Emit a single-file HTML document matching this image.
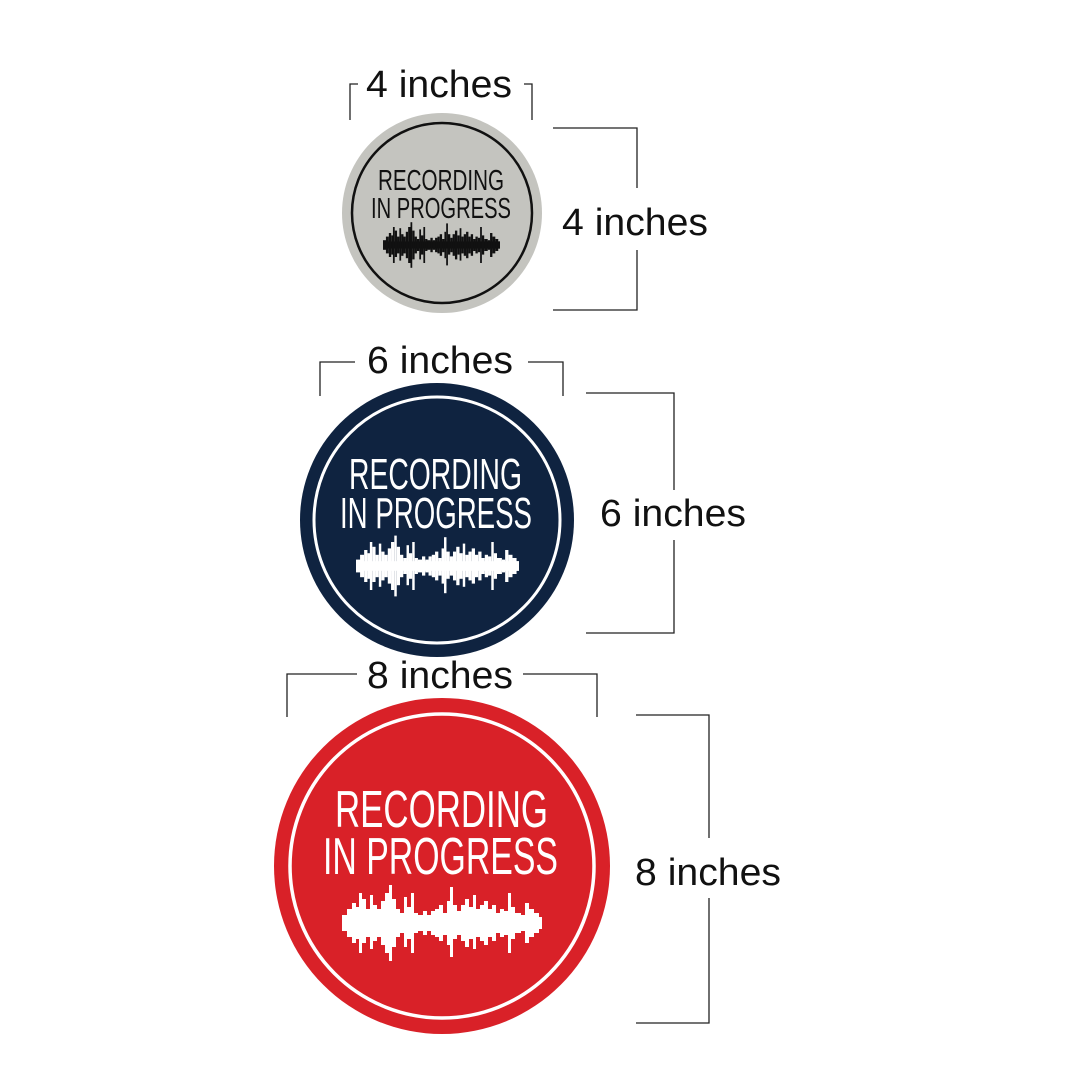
<!DOCTYPE html>
<html><head><meta charset="utf-8"><style>
html,body{margin:0;padding:0;background:#fff;}
svg{display:block;}
</style></head><body>
<svg width="1082" height="1082" viewBox="0 0 1082 1082" xmlns="http://www.w3.org/2000/svg">
<defs>
<g id="wave">
<rect x="0" y="-6" width="200" height="12"/>
<rect x="0" y="-8" width="6" height="16"/>
<rect x="5" y="-14" width="5" height="28"/>
<rect x="10" y="-20" width="4" height="40"/>
<rect x="14" y="-16" width="4" height="32"/>
<rect x="17" y="-30" width="3" height="60"/>
<rect x="20" y="-24" width="4" height="44"/>
<rect x="24" y="-14" width="4" height="28"/>
<rect x="28" y="-28" width="3" height="54"/>
<rect x="31" y="-18" width="4" height="36"/>
<rect x="35" y="-14" width="4" height="28"/>
<rect x="39" y="-22" width="4" height="44"/>
<rect x="43" y="-30" width="4" height="60"/>
<rect x="47" y="-38" width="3" height="76"/>
<rect x="50" y="-24" width="4" height="48"/>
<rect x="54" y="-14" width="4" height="28"/>
<rect x="58" y="-10" width="4" height="20"/>
<rect x="62" y="-26" width="3" height="50"/>
<rect x="65" y="-16" width="4" height="32"/>
<rect x="69" y="-30" width="3" height="60"/>
<rect x="72" y="-10" width="4" height="20"/>
<rect x="76" y="-8" width="5" height="16"/>
<rect x="81" y="-12" width="4" height="24"/>
<rect x="85" y="-8" width="4" height="16"/>
<rect x="89" y="-12" width="4" height="24"/>
<rect x="93" y="-14" width="4" height="28"/>
<rect x="97" y="-18" width="4" height="36"/>
<rect x="101" y="-10" width="4" height="22"/>
<rect x="105" y="-22" width="3" height="44"/>
<rect x="108" y="-36" width="3" height="70"/>
<rect x="111" y="-18" width="4" height="34"/>
<rect x="115" y="-12" width="4" height="24"/>
<rect x="119" y="-18" width="4" height="36"/>
<rect x="123" y="-24" width="4" height="48"/>
<rect x="127" y="-16" width="4" height="32"/>
<rect x="131" y="-28" width="3" height="54"/>
<rect x="134" y="-14" width="4" height="28"/>
<rect x="138" y="-18" width="4" height="36"/>
<rect x="142" y="-22" width="4" height="44"/>
<rect x="146" y="-14" width="4" height="28"/>
<rect x="150" y="-18" width="4" height="36"/>
<rect x="154" y="-10" width="4" height="20"/>
<rect x="158" y="-14" width="4" height="28"/>
<rect x="162" y="-12" width="4" height="24"/>
<rect x="166" y="-30" width="3" height="60"/>
<rect x="169" y="-16" width="4" height="32"/>
<rect x="173" y="-10" width="6" height="20"/>
<rect x="179" y="-8" width="4" height="16"/>
<rect x="183" y="-20" width="4" height="40"/>
<rect x="187" y="-14" width="5" height="28"/>
<rect x="192" y="-10" width="5" height="20"/>
<rect x="196" y="-6" width="4" height="12"/>
</g>
</defs>
<g font-family="Liberation Sans, sans-serif">
<circle cx="442" cy="213" r="100" fill="#c4c4bf"/>
<circle cx="442" cy="213" r="90" fill="none" stroke="#111" stroke-width="2.5"/>
<text x="378" y="190" font-size="29" textLength="126" lengthAdjust="spacingAndGlyphs" fill="#111">RECORDING</text>
<text x="371" y="218" font-size="29" textLength="140" lengthAdjust="spacingAndGlyphs" fill="#111">IN PROGRESS</text>
<use href="#wave" transform="translate(383,245) scale(0.585,0.6)" fill="#111"/>
<circle cx="437" cy="520" r="137" fill="#0f2340"/>
<circle cx="437" cy="520" r="123" fill="none" stroke="#fff" stroke-width="3"/>
<text x="349" y="489" font-size="44" textLength="173" lengthAdjust="spacingAndGlyphs" fill="#fff">RECORDING</text>
<text x="340" y="528" font-size="44" textLength="192" lengthAdjust="spacingAndGlyphs" fill="#fff">IN PROGRESS</text>
<use href="#wave" transform="translate(356,566) scale(0.815,0.8)" fill="#fff"/>
<circle cx="442" cy="866" r="168" fill="#d92128"/>
<circle cx="442" cy="866" r="152" fill="none" stroke="#fff" stroke-width="3.5"/>
<text x="335" y="827" font-size="52" textLength="213" lengthAdjust="spacingAndGlyphs" fill="#fff">RECORDING</text>
<text x="323" y="874" font-size="52" textLength="235" lengthAdjust="spacingAndGlyphs" fill="#fff">IN PROGRESS</text>
<use href="#wave" transform="translate(342,923)" fill="#fff"/>
<g fill="none" stroke="#222" stroke-width="1.3">
<polyline points="350,120 350,84 358,84"/>
<polyline points="524,84 532,84 532,120"/>
<polyline points="553,128 637,128 637,188"/>
<polyline points="637,250 637,310 553,310"/>
<polyline points="320,396 320,362 355,362"/>
<polyline points="528,362 563,362 563,396"/>
<polyline points="586,393 674,393 674,490"/>
<polyline points="674,540 674,633 586,633"/>
<polyline points="287,717 287,674 357,674"/>
<polyline points="523,674 597,674 597,717"/>
<polyline points="636,715 709,715 709,838"/>
<polyline points="709,898 709,1023 636,1023"/>
</g>
<g font-size="38" fill="#111">
<text x="366" y="97" textLength="146" lengthAdjust="spacingAndGlyphs">4 inches</text>
<text x="562" y="235" textLength="146" lengthAdjust="spacingAndGlyphs">4 inches</text>
<text x="367" y="373" textLength="146" lengthAdjust="spacingAndGlyphs">6 inches</text>
<text x="600" y="526" textLength="146" lengthAdjust="spacingAndGlyphs">6 inches</text>
<text x="367" y="688" textLength="146" lengthAdjust="spacingAndGlyphs">8 inches</text>
<text x="635" y="885" textLength="146" lengthAdjust="spacingAndGlyphs">8 inches</text>
</g>
</g>
</svg>
</body></html>
